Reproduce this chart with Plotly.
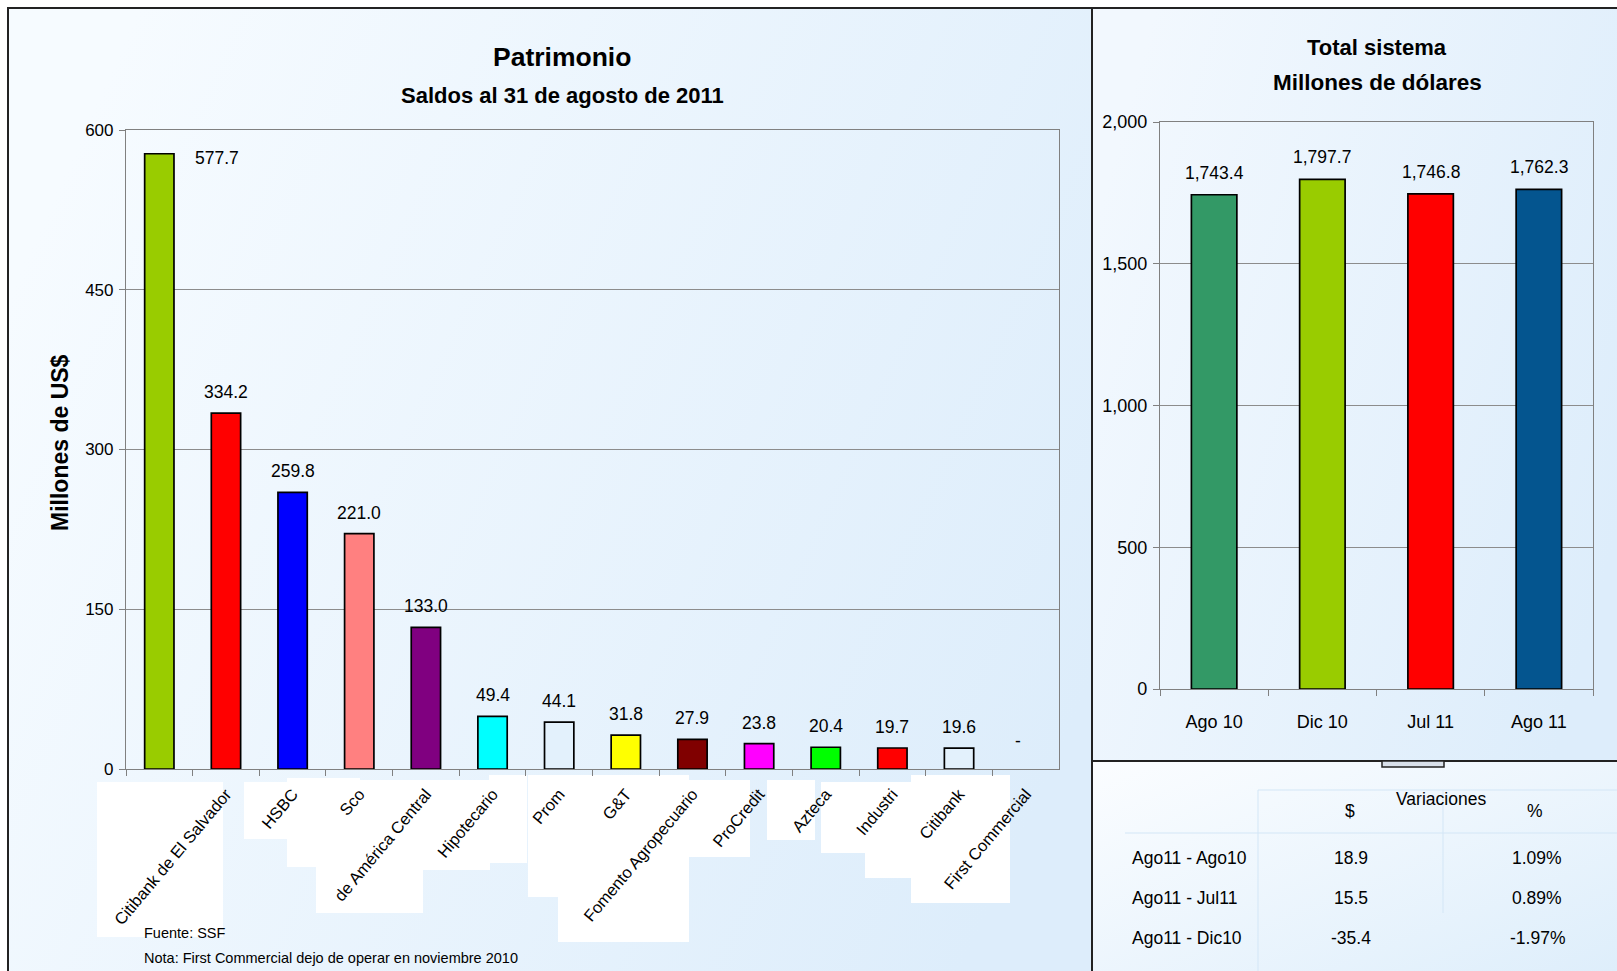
import base64
import plotly.graph_objects as go

# ---------------- data ----------------
banks = [" ", "Citibank de El Salvador", "HSBC", "Sco", "de América Central",
         "Hipotecario", "Prom", "G&T", "Fomento Agropecuario", "ProCredit",
         "Azteca", "Industri", "Citibank", "First Commercial"]
patrimonio = [577.7, 334.2, 259.8, 221.0, 133.0, 49.4, 44.1, 31.8, 27.9,
              23.8, 20.4, 19.7, 19.6, None]
bank_colors = ["#99cc00", "#ff0000", "#0000ff", "#ff8080", "#800080", "#00ffff",
               "#e3f1fc", "#ffff00", "#800000", "#ff00ff", "#00ff00", "#ff0000",
               "#e3f1fc", "#e3f1fc"]

periodos = ["Ago 10", "Dic 10", "Jul 11", "Ago 11"]
total_sistema = [1743.4, 1797.7, 1746.8, 1762.3]
periodo_colors = ["#339966", "#99cc00", "#ff0000", "#04558f"]

var_rows = ["Ago11 - Ago10", "Ago11 - Jul11", "Ago11 - Dic10"]
var_usd = [18.9, 15.5, -35.4]
var_pct = [1.09, 0.89, -1.97]

left_yticks = [0, 150, 300, 450, 600]
right_yticks = [0, 500, 1000, 1500, 2000]

# ---------------- helpers (layout only) ----------------
W, H = 1617, 971
def px(x):
    return x / W
def py(y):
    return 1 - y / H

FONT = "Liberation Sans, Arial, Helvetica, sans-serif"
GRID = "#8c8c8c"


def gradient_image(c1, c2, x0, y0, x1, y1, gx1="0", gy1="0", gx2="1", gy2="1"):
    svg = (
        '<svg xmlns="http://www.w3.org/2000/svg" width="100" height="100" '
        'viewBox="0 0 100 100" preserveAspectRatio="none">'
        f'<defs><linearGradient id="g" x1="{gx1}" y1="{gy1}" x2="{gx2}" y2="{gy2}">'
        f'<stop offset="0" stop-color="{c1}"/><stop offset="1" stop-color="{c2}"/>'
        '</linearGradient></defs><rect width="100" height="100" fill="url(#g)"/></svg>'
    )
    src = "data:image/svg+xml;base64," + base64.b64encode(svg.encode()).decode()
    return dict(source=src, xref="paper", yref="paper", x=px(x0), y=py(y0),
                sizex=px(x1) - px(x0), sizey=py(y0) - py(y1), xanchor="left",
                yanchor="top", sizing="stretch", layer="below")


fig = go.Figure()

fig.add_trace(go.Bar(
    x=banks, y=patrimonio, marker=dict(color=bank_colors, line=dict(color="black", width=1.7)),
    width=0.44, xaxis="x", yaxis="y", showlegend=False, hoverinfo="x+y"))

fig.add_trace(go.Bar(
    x=periodos, y=total_sistema, marker=dict(color=periodo_colors, line=dict(color="black", width=1.7)),
    width=0.42, xaxis="x2", yaxis="y2", showlegend=False, hoverinfo="x+y"))

LBL = dict(family=FONT, size=17.5, color="black")
annotations = []
for i, (b, v) in enumerate(zip(banks, patrimonio)):
    if v is None:
        annotations.append(dict(x=b, y=0, xref="x", yref="y", text="-", showarrow=False,
                                xanchor="center", yanchor="middle", yshift=28, xshift=-8, font=LBL))
    elif i == 0:
        annotations.append(dict(x=b, y=v, xref="x", yref="y", text=f"{v:.1f}", showarrow=False,
                                xanchor="center", yanchor="middle", xshift=58, yshift=-4, font=LBL))
    else:
        annotations.append(dict(x=b, y=v, xref="x", yref="y", text=f"{v:.1f}", showarrow=False,
                                xanchor="center", yanchor="middle", yshift=21, font=LBL))
for p, v in zip(periodos, total_sistema):
    annotations.append(dict(x=p, y=v, xref="x2", yref="y2", text=f"{v:,.1f}", showarrow=False,
                            xanchor="center", yanchor="middle", yshift=22, font=LBL))


def note(x, y, text, size, anchor="center", bold=False, angle=0):
    return dict(x=px(x), y=py(y), xref="paper", yref="paper",
                text=f"<b>{text}</b>" if bold else text, showarrow=False,
                xanchor=anchor, yanchor="middle", textangle=angle,
                font=dict(family=FONT, size=size, color="black"))


annotations += [
    note(562, 57, "Patrimonio", 26.5, bold=True),
    note(562, 96, "Saldos al 31 de agosto de 2011", 22, bold=True),
    note(1377, 47, "Total sistema", 22, bold=True),
    note(1377, 82, "Millones de dólares", 22.5, bold=True),
    note(60, 443, "Millones de US$", 23, bold=True, angle=-90),
    note(142, 933, "Fuente: SSF", 14.5, anchor="left"),
    note(142, 958, "Nota: First Commercial dejo de operar en noviembre 2010", 14.5, anchor="left"),
    note(1441, 799, "Variaciones", 17.5),
    note(1350, 811, "$", 17.5),
    note(1535, 811, "%", 17.5),
]
row_y = [858, 898, 938]
for r, u, p, yy in zip(var_rows, var_usd, var_pct, row_y):
    annotations += [
        note(1130, yy, r, 17.5, anchor="left"),
        note(1351, yy, f"{u:.1f}", 17.5),
        note(1537, yy, f"{p:.2f}%", 17.5),
    ]

# white label boxes behind the category labels (as in the original rendering)
label_boxes = [
    (97, 782, 223, 937), (244, 782, 288, 839), (287, 778, 360, 867), (316, 780, 423, 913),
    (417, 780, 490, 870), (489, 775, 527, 863), (528, 775, 560, 897), (558, 775, 689, 942),
    (689, 780, 750, 857), (767, 780, 815, 840), (821, 782, 865, 853), (865, 782, 911, 878),
    (911, 775, 1010, 903),
]

shapes = [
    dict(type="rect", xref="paper", yref="paper", x0=px(8), x1=px(1092), y0=py(990), y1=py(8),
         fillcolor="rgba(0,0,0,0)", line=dict(color="#222222", width=2), layer="below"),
    dict(type="rect", xref="paper", yref="paper", x0=px(1092), x1=px(1640), y0=py(761), y1=py(8),
         fillcolor="rgba(0,0,0,0)", line=dict(color="#222222", width=2), layer="below"),
    dict(type="line", xref="paper", yref="paper", x0=px(1092), x1=px(1092), y0=py(990), y1=py(761),
         line=dict(color="#222222", width=2), layer="below"),
    dict(type="rect", xref="paper", yref="paper", x0=px(1382), x1=px(1444), y0=py(767), y1=py(761),
         fillcolor="#d8e0ea", line=dict(color="#222222", width=1.5), layer="above"),
    dict(type="line", xref="paper", yref="paper", x0=px(1258), x1=px(1617), y0=py(790), y1=py(790),
         line=dict(color="#d3e6f6", width=1), layer="below"),
    dict(type="line", xref="paper", yref="paper", x0=px(1125), x1=px(1617), y0=py(833), y1=py(833),
         line=dict(color="#d3e6f6", width=1), layer="below"),
    dict(type="line", xref="paper", yref="paper", x0=px(1258), x1=px(1258), y0=py(790), y1=py(971),
         line=dict(color="#d3e6f6", width=1), layer="below"),
    dict(type="line", xref="paper", yref="paper", x0=px(1443), x1=px(1443), y0=py(790), y1=py(913),
         line=dict(color="#d3e6f6", width=1), layer="below"),
]
for (a, b, c, d) in label_boxes:
    shapes.append(dict(type="rect", xref="paper", yref="paper", x0=px(a), x1=px(c),
                       y0=py(d), y1=py(b), fillcolor="white", line=dict(width=0), layer="below"))

images = [
    gradient_image("#f6fbff", "#ddedfb", 8, 8, 1092, 971, "0", "0.3", "1", "0.7"),
    gradient_image("#f2f8fe", "#ddedfb", 1092, 8, 1617, 761, "0", "0.3", "1", "0.7"),
    gradient_image("#fbfdff", "#deeefb", 1092, 761, 1617, 971, "0", "0", "1", "1"),
]

axis_common = dict(showline=True, linecolor="#808080", linewidth=1.2, ticks="outside",
                   ticklen=6, tickcolor="#808080", mirror=True, zeroline=False)

fig.update_layout(
    width=W, height=H, margin=dict(l=0, r=0, t=0, b=0, autoexpand=False),
    paper_bgcolor="white", plot_bgcolor="white",
    showlegend=False,
    xaxis=dict(domain=[px(126), px(1059)], anchor="y", type="category",
               tickson="boundaries", tickangle=-50, showgrid=False,
               tickfont=dict(family=FONT, size=16.5, color="black"),
               ticklabelstandoff=8, automargin=False, **axis_common),
    yaxis=dict(domain=[py(769), py(130)], anchor="x", range=[0, 600], tickvals=left_yticks,
               showgrid=True, gridcolor=GRID, gridwidth=1.2,
               tickfont=dict(family=FONT, size=17, color="black"),
               ticklabelstandoff=2, automargin=False, **axis_common),
    xaxis2=dict(domain=[px(1160), px(1593)], anchor="y2", type="category",
                tickson="boundaries", showgrid=False,
                tickfont=dict(family=FONT, size=18, color="black"),
                ticklabelstandoff=16, automargin=False, **axis_common),
    yaxis2=dict(domain=[py(689), py(122)], anchor="x2", range=[0, 2000], tickvals=right_yticks,
                tickformat=",", showgrid=True, gridcolor=GRID, gridwidth=1.2,
                tickfont=dict(family=FONT, size=18, color="black"),
                ticklabelstandoff=2, automargin=False, **axis_common),
    annotations=annotations, shapes=shapes, images=images,
)

fig.write_html(
    "out.html",
    config={"displayModeBar": False},
    post_script="document.body.style.margin='0px';document.body.style.padding='0px';"
                "document.documentElement.style.overflow='hidden';",
)
